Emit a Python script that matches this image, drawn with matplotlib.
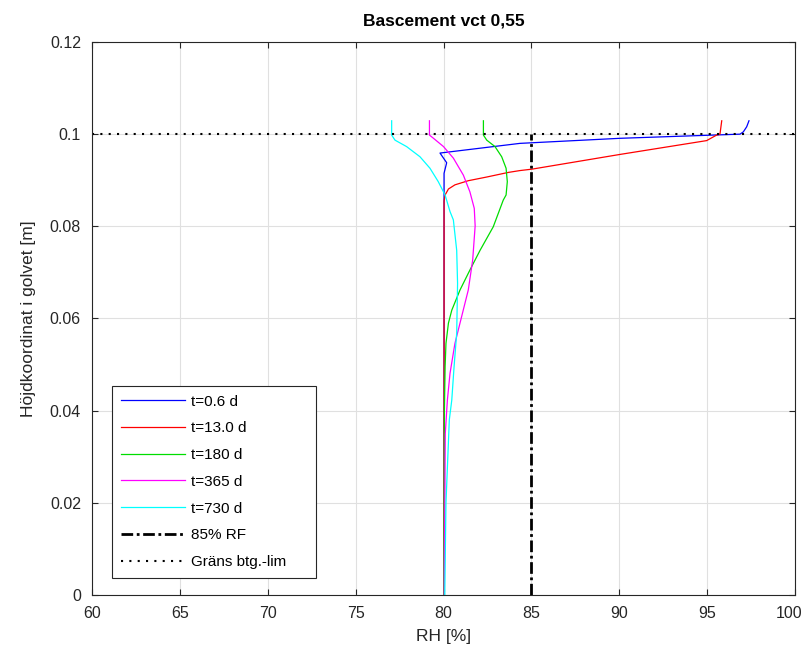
import matplotlib
matplotlib.use("Agg")
import matplotlib.pyplot as plt
import matplotlib.transforms as mtransforms
from matplotlib.ticker import FuncFormatter

plt.rcParams['font.family'] = ['Liberation Sans', 'DejaVu Sans']

# RH profiles through the slab, (RH %, height m)
rh_06 = [80.03, 80.03, 80.18, 79.8, 84.35, 90.04, 96.87, 97.06, 97.25, 97.38]
h_06 = [0.0, 0.0915, 0.0938, 0.0959, 0.098, 0.0991, 0.1, 0.1005, 0.1016, 0.1029]

rh_13 = [80.03, 80.03, 80.09, 80.28, 80.65, 81.41, 82.46, 83.69, 84.35, 85.02,
         90.04, 94.97, 95.54, 95.73, 95.83]
h_13 = [0.0, 0.0855, 0.0868, 0.0881, 0.089, 0.0899, 0.0907, 0.0917, 0.0921, 0.0924,
        0.0956, 0.0986, 0.0998, 0.1, 0.1029]

rh_180 = [80.03, 80.05, 80.09, 80.14, 80.28, 80.47, 80.94, 81.5, 82.08, 82.83, 83.4,
          83.56, 83.63, 83.56, 83.31, 82.93, 82.46, 82.27, 82.27]
h_180 = [0.0, 0.04, 0.0495, 0.0546, 0.059, 0.0618, 0.0662, 0.0705, 0.0748, 0.0799, 0.0857,
         0.0868, 0.0897, 0.0926, 0.0951, 0.0973, 0.0987, 0.0998, 0.1029]

rh_365 = [80.04, 80.1, 80.22, 80.37, 80.65, 81.03, 81.41, 81.66, 81.8, 81.75, 81.5,
          81.13, 80.56, 80.0, 79.43, 79.2, 79.2]
h_365 = [0.0, 0.035, 0.0423, 0.0481, 0.0546, 0.0604, 0.0662, 0.0727, 0.0801, 0.0839, 0.0875,
         0.0911, 0.0948, 0.0973, 0.0991, 0.0998, 0.1029]

rh_730 = [80.07, 80.14, 80.33, 80.47, 80.6, 80.75, 80.8, 80.75, 80.56, 80.37, 80.09,
          79.7, 79.23, 78.66, 77.9, 77.24, 77.05, 77.05]
h_730 = [0.0, 0.02, 0.038, 0.0423, 0.0495, 0.0568, 0.0676, 0.0748, 0.0814, 0.0832, 0.0868,
         0.0897, 0.0926, 0.0951, 0.0973, 0.0987, 0.0998, 0.1029]

labels = ['t=0.6 d', 't=13.0 d', 't=180 d', 't=365 d', 't=730 d']
colors = ['#0000ff', '#ff0000', '#00dd00', '#ff00ff', '#00ffff']

rf_limit = 85.0
slab_top = 0.1

fig = plt.figure(figsize=(8.05, 6.54), dpi=100)
ax = fig.add_axes([0.1143, 0.0902, 0.8733, 0.8456])

for rh, h, lab, c in zip([rh_06, rh_13, rh_180, rh_365, rh_730],
                         [h_06, h_13, h_180, h_365, h_730], labels, colors):
    ax.plot(rh, h, color=c, lw=0.9, label=lab)

ax.plot([rf_limit, rf_limit], [0, slab_top], color='black', ls=(0, (4.2, 1.3, 1, 1.3)),
        lw=2.0, label='85% RF')
ax.plot([60, 100], [slab_top, slab_top], color='black', ls=(0, (1, 3)), lw=1.5,
        label='Gräns btg.-lim')

ax.set_xlim(60, 100)
ax.set_ylim(0, 0.12)
ax.set_xticks(range(60, 101, 5))
ax.set_yticks([0, 0.02, 0.04, 0.06, 0.08, 0.1, 0.12])
ax.yaxis.set_major_formatter(FuncFormatter(lambda v, p: '%g' % round(v, 3)))
ax.grid(True, color='#e0e0e0', lw=0.8)
ax.set_axisbelow(True)
ax.tick_params(direction='in', top=True, right=True, length=4, labelsize=11.5, pad=8,
               colors='#262626')
for s in ax.spines.values():
    s.set_color('#262626')
    s.set_linewidth(0.8)

# nudge the last x tick label so it stays inside the figure
last = ax.get_xticklabels()[-1]
last.set_transform(last.get_transform() +
                   mtransforms.ScaledTranslation(-4 / 72, 0, fig.dpi_scale_trans))

ax.set_xlabel('RH [%]', fontsize=12.5, color='#262626', labelpad=6)
ax.set_ylabel('Höjdkoordinat i golvet [m]', fontsize=12.5, color='#262626', labelpad=10)
ax.set_title('Bascement vct 0,55', fontsize=12.5, fontweight='bold', pad=12)

leg = ax.legend(loc='lower left', bbox_to_anchor=(0.0284, 0.0307, 0.29, 0.3),
                mode='expand', borderaxespad=0, fontsize=11,
                fancybox=False, framealpha=1, edgecolor='#262626',
                handlelength=4.2, labelspacing=0.83, borderpad=0.6, handletextpad=0.4)
leg.get_frame().set_linewidth(0.8)

fig.savefig('out.png', dpi=100)
